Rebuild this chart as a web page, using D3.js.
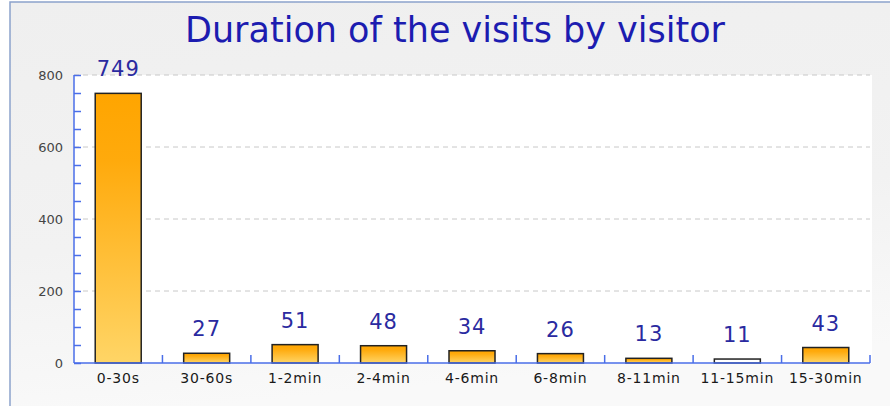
<!DOCTYPE html>
<html>
<head>
<meta charset="utf-8">
<script src="https://cdn.jsdelivr.net/npm/d3@7"></script>
<style>
    body { margin: 0; background: #fff; }
    svg text { font-family: "DejaVu Sans", sans-serif; }
</style>
</head>
<body>
<div id="chart"></div>
<script>
const categories = ["0-30s", "30-60s", "1-2min", "2-4min", "4-6min", "6-8min", "8-11min", "11-15min", "15-30min"];
const visits = [749, 27, 51, 48, 34, 26, 13, 11, 43];
const yTicks = [0, 200, 400, 600, 800];

const width = 890, height = 406;
const margin = {top: 75, right: 20, bottom: 43, left: 74};

const svg = d3.select("#chart").append("svg")
    .attr("width", width)
    .attr("height", height);

const defs = svg.append("defs");

const bg = defs.append("linearGradient")
    .attr("id", "bgGrad")
    .attr("x1", 0).attr("y1", 0).attr("x2", 0.2).attr("y2", 1);
bg.append("stop").attr("offset", "0%").attr("stop-color", "#efefef");
bg.append("stop").attr("offset", "60%").attr("stop-color", "#f2f2f2");
bg.append("stop").attr("offset", "100%").attr("stop-color", "#f9f9f9");

const barGrad = defs.append("linearGradient")
    .attr("id", "barGrad")
    .attr("x1", 0).attr("y1", 0).attr("x2", 0).attr("y2", 1);
barGrad.append("stop").attr("offset", "0%").attr("stop-color", "#ffa500");
barGrad.append("stop").attr("offset", "25%").attr("stop-color", "#ffaa0c");
barGrad.append("stop").attr("offset", "100%").attr("stop-color", "#ffd566");

// background + frame
svg.append("rect")
    .attr("x", 10).attr("y", 2)
    .attr("width", width).attr("height", height)
    .attr("fill", "url(#bgGrad)")
    .attr("stroke", "#8ca2cc")
    .attr("stroke-width", 1.5);

svg.append("text")
    .attr("x", 455)
    .attr("y", 42)
    .attr("text-anchor", "middle")
    .attr("fill", "#1c1cb0")
    .style("font-size", "35px")
    .text("Duration of the visits by visitor");

const x = d3.scaleBand()
    .domain(categories)
    .range([margin.left, width - margin.right])
    .paddingInner(0)
    .paddingOuter(0);

const y = d3.scaleLinear()
    .domain([0, 800])
    .range([height - margin.bottom, margin.top]);

// plot area
svg.append("rect")
    .attr("x", margin.left)
    .attr("y", margin.top)
    .attr("width", width - margin.right - margin.left + 2)
    .attr("height", y(0) - margin.top)
    .attr("fill", "#ffffff");

// grid lines
svg.append("g")
    .selectAll("line")
    .data(yTicks.filter(d => d > 0))
    .enter()
    .append("line")
    .attr("x1", margin.left)
    .attr("x2", width - margin.right)
    .attr("y1", d => y(d))
    .attr("y2", d => y(d))
    .attr("stroke", "#c8c8c8")
    .attr("stroke-dasharray", "5,4");

// bars
const barW = 46;
svg.append("g")
    .selectAll("rect")
    .data(visits)
    .enter()
    .append("rect")
    .attr("x", (d, i) => x(categories[i]) + (x.bandwidth() - barW) / 2)
    .attr("y", d => y(d))
    .attr("width", barW)
    .attr("height", d => y(0) - y(d))
    // very thin bars lose their gradient in the original renderer
    .attr("fill", d => (y(0) - y(d)) < 4.5 ? "#ffffff" : "url(#barGrad)")
    .attr("stroke", "#222")
    .attr("stroke-width", 1.5);

// value labels
svg.append("g")
    .selectAll("text")
    .data(visits)
    .enter()
    .append("text")
    .attr("x", (d, i) => x(categories[i]) + x.bandwidth() / 2)
    .attr("y", d => y(d) - 17)
    .attr("text-anchor", "middle")
    .attr("fill", "#2a2aa0")
    .style("font-size", "21px")
    .style("letter-spacing", "1px")
    .text(d => d);

// y axis
const yAxis = d3.axisRight(y)
    .tickValues(d3.range(0, 801, 50))
    .tickSize(7)
    .tickFormat("");
const gy = svg.append("g")
    .attr("transform", "translate(" + margin.left + ",0)")
    .call(yAxis);
gy.selectAll("line, path").attr("stroke", "#4a6ee8").attr("stroke-width", 1.5);
gy.select(".domain").attr("d", "M0," + y(800) + "V" + y(0));

svg.append("g")
    .selectAll("text")
    .data(yTicks)
    .enter()
    .append("text")
    .attr("x", 63)
    .attr("y", d => y(d) + 5)
    .attr("text-anchor", "end")
    .attr("fill", "#444")
    .style("font-size", "13px")
    .text(d => d);

// x axis
const xAxisY = y(0);
const gx = svg.append("g");
gx.append("line")
    .attr("x1", margin.left).attr("x2", width - margin.right)
    .attr("y1", xAxisY).attr("y2", xAxisY)
    .attr("stroke", "#4a6ee8")
    .attr("stroke-width", 1.5);
gx.selectAll(".tick")
    .data(categories.slice(1).concat([null]))
    .enter()
    .append("line")
    .attr("x1", d => d ? x(d) : x(categories[categories.length - 1]) + x.bandwidth())
    .attr("x2", d => d ? x(d) : x(categories[categories.length - 1]) + x.bandwidth())
    .attr("y1", xAxisY)
    .attr("y2", xAxisY - 8)
    .attr("stroke", "#4a6ee8")
    .attr("stroke-width", 1.5);

gx.selectAll("text")
    .data(categories)
    .enter()
    .append("text")
    .attr("x", d => x(d) + x.bandwidth() / 2)
    .attr("y", xAxisY + 20)
    .attr("text-anchor", "middle")
    .attr("fill", "#1a1a1a")
    .style("font-size", "14px")
    .style("letter-spacing", "0.8px")
    .text(d => d);
</script>
</body>
</html>
